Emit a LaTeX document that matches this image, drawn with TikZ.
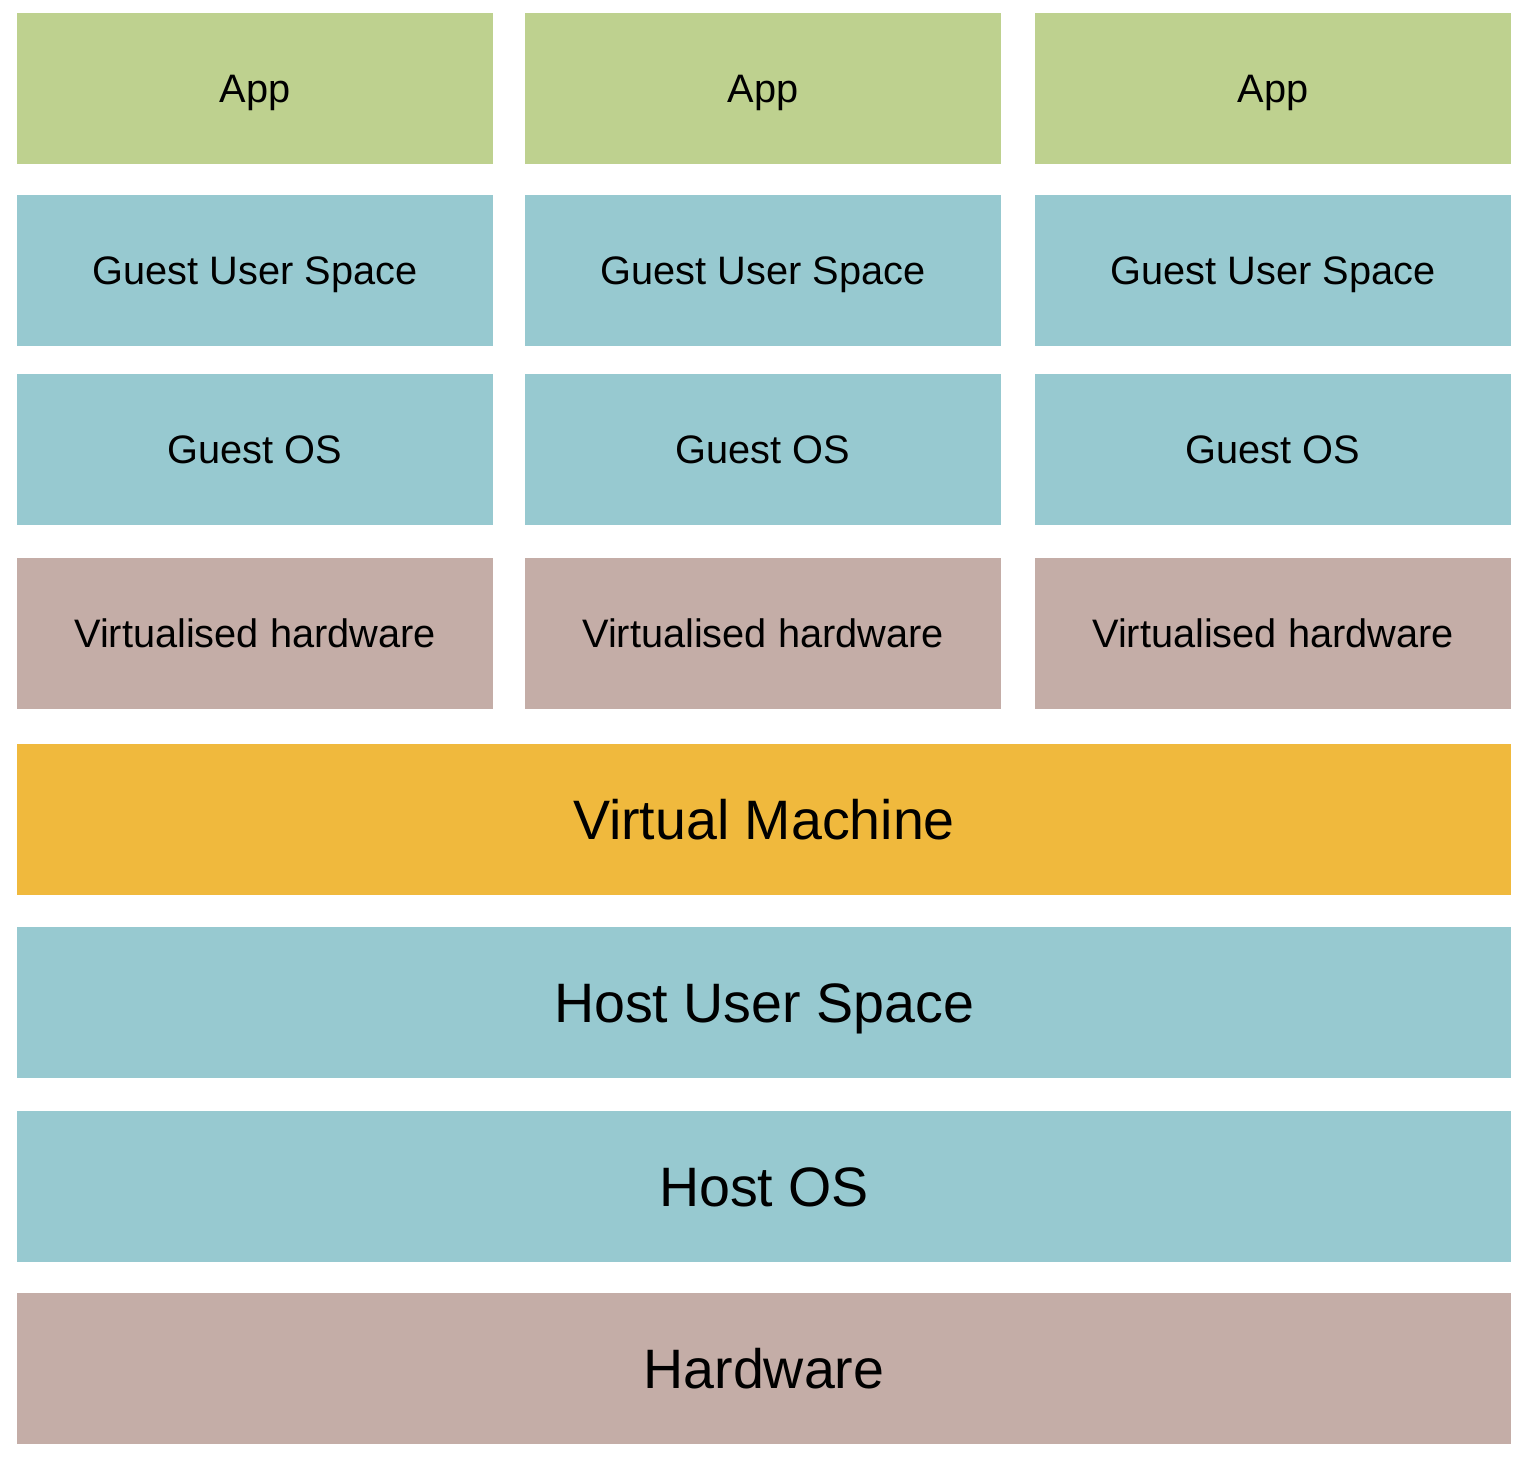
\documentclass[tikz,border=0pt]{standalone}
\usepackage{fontspec}
\setmainfont{Liberation Sans}
\usepackage{tikz}
\usepackage{xcolor}
\definecolor{appgreen}{RGB}{190,209,143}
\definecolor{spaceblue}{RGB}{151,201,208}
\definecolor{hwbrown}{RGB}{196,173,167}
\definecolor{vmorange}{RGB}{240,185,61}

\tikzset{
  layer/.style={rectangle, inner sep=0pt, minimum height=1.51cm, text=black},
  guestlayer/.style={layer, minimum width=4.76cm, font=\fontsize{11.3}{13}\selectfont,
    text height=8.1pt, text depth=0pt},
  hostlayer/.style={layer, minimum width=14.94cm, font=\fontsize{15.8}{18}\selectfont,
    text height=11.3pt, text depth=0pt}
}

\begin{document}
\begin{tikzpicture}[x=0.01cm, y=-0.01cm]
\useasboundingbox (0,0) rectangle (1530,1470);

% one stack per guest
\foreach \col/\cx in {1/255, 2/763, 3/1273} {
  \node[guestlayer, fill=appgreen] (app\col) at (\cx,88.5) {App};
  \node[guestlayer, fill=spaceblue] (gus\col) at (\cx,270.5) {Guest User Space};
  \node[guestlayer, fill=spaceblue] (gos\col) at (\cx,449.5) {Guest OS};
  \node[guestlayer, fill=hwbrown] (vhw\col) at (\cx,633.5) {Virtualised hardware};
}

% shared host layers
\node[hostlayer, fill=vmorange] (vm) at (764,819.5) {Virtual Machine};
\node[hostlayer, fill=spaceblue] (hus) at (764,1002.5) {Host User Space};
\node[hostlayer, fill=spaceblue] (hos) at (764,1186.5) {Host OS};
\node[hostlayer, fill=hwbrown] (hw) at (764,1368.5) {Hardware};
\end{tikzpicture}
\end{document}
